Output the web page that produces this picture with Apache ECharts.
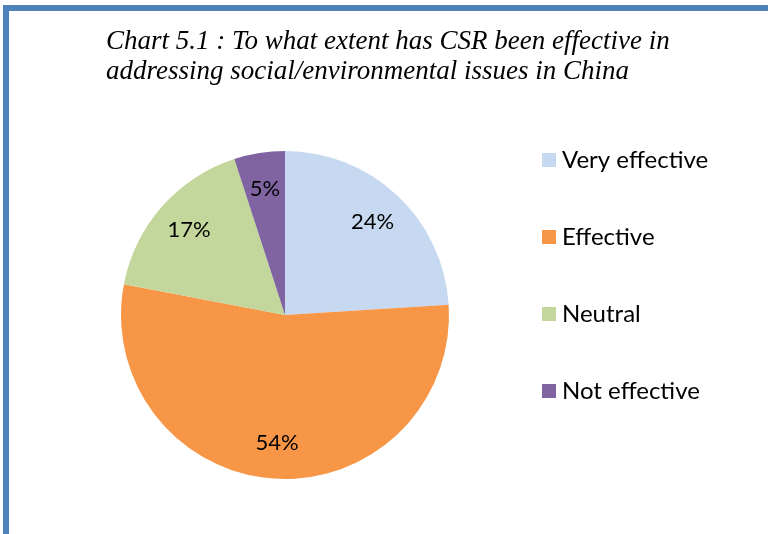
<!DOCTYPE html>
<html>
<head>
<meta charset="utf-8">
<script src="https://cdn.jsdelivr.net/npm/echarts@6/dist/echarts.min.js"></script>
<style>html,body{margin:0;padding:0;background:#fff;}#c{width:768px;height:534px;}</style>
</head>
<body>
<div id="c"></div>
<script>
const categories = ['Very effective', 'Effective', 'Neutral', 'Not effective'];
const values = [24, 54, 17, 5];
const colors = ['#c6d9f1', '#f79646', '#c3d69b', '#8064a2'];
const titleText = 'Chart 5.1 : To what extent has CSR been effective in\naddressing social/environmental issues in China';

const data = categories.map((n, i) => ({ name: n, value: values[i], itemStyle: { color: colors[i] } }));
const chart = echarts.init(document.getElementById('c'));
chart.setOption({
  animation: false,
  graphic: [{
    type: 'rect', shape: { x: 6, y: 8, width: 900, height: 700 },
    style: { fill: 'none', stroke: '#4f81bd', lineWidth: 6 }, silent: true
  }],
  title: {
    text: titleText, left: 101, top: 22,
    textStyle: { fontFamily: 'Liberation Serif', fontStyle: 'italic', fontWeight: 'normal', fontSize: 27, color: '#000', lineHeight: 30 }
  },
  legend: {
    orient: 'vertical', left: 542, top: 148, padding: 0, icon: 'rect', itemWidth: 14, itemHeight: 14, itemGap: 53,
    data: categories,
    textStyle: { fontFamily: 'Lato', fontSize: 24, color: '#000', padding: [0, 0, 0, 1] }
  },
  series: [{
    type: 'pie', center: [285, 315], radius: [0, 164], startAngle: 90, clockwise: true,
    label: { show: false }, labelLine: { show: false }, silent: true,
    itemStyle: { borderWidth: 0 },
    data: data
  }, {
    type: 'pie', center: [285, 315], radius: [0, 250], startAngle: 90, clockwise: true, silent: true,
    itemStyle: { color: 'rgba(0,0,0,0)', borderWidth: 0 },
    label: { show: true, position: 'inside', formatter: '{c}%', fontFamily: 'Lato', fontSize: 22, color: '#000' },
    labelLine: { show: false },
    data: categories.map((n, i) => ({ name: n, value: values[i] }))
  }]
});
</script>
</body>
</html>
